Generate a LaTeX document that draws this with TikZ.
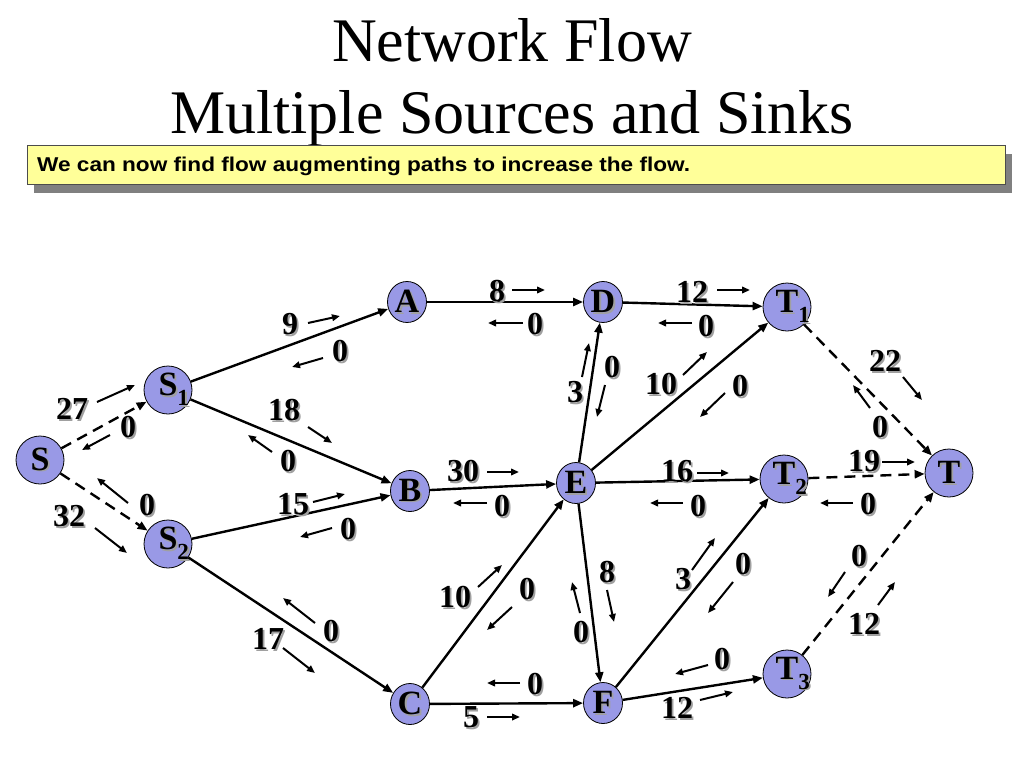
\documentclass[tikz,border=0pt]{standalone}
\usepackage{fontspec}
\usepackage{graphicx}
\setmainfont{Liberation Serif}
\newfontfamily\arialfont{Liberation Sans}
\usetikzlibrary{shapes.geometric,arrows.meta}
\definecolor{nodefill}{RGB}{153,153,230}
\definecolor{boxfill}{RGB}{255,255,153}
\definecolor{shgray}{RGB}{160,160,160}
\definecolor{boxshadow}{RGB}{128,128,128}
\newcommand\shd[1]{\leavevmode\rlap{\kern1.8pt\raisebox{-1.8pt}{\textcolor{shgray}{#1}}}#1}
\newcommand\sbs[2]{\shd{#1}\rlap{\raisebox{-10pt}{\fontsize{23}{23}\selectfont\shd{#2}}}}
\tikzset{
  vtx/.style={ellipse, draw=black, line width=0.8pt, fill=nodefill, inner sep=0pt, minimum width=39pt, minimum height=41pt},
  bigvtx/.style={vtx, minimum width=48pt, minimum height=48pt},
  vlab/.style={font=\fontsize{34}{34}\selectfont\bfseries, inner sep=0pt},
  elab/.style={font=\fontsize{32}{32}\selectfont\bfseries, inner sep=0pt},
  edge/.style={line width=2.4pt, -{Triangle[length=10pt,width=8pt]}},
  dedge/.style={edge, dash pattern=on 11pt off 7pt},
  sarrow/.style={line width=2pt, -{Triangle[length=8pt,width=6.5pt]}},
}
\begin{document}
\begin{tikzpicture}[x=1pt,y=-1pt]
\useasboundingbox (0,0) rectangle (1024,768);
\fill[white] (0,0) rectangle (1024,768);
% title
\node[anchor=base, inner sep=0pt, font=\fontsize{62}{62}\selectfont] (t1) at (512,62) {Network Flow};
\node[anchor=base, inner sep=0pt, font=\fontsize{62}{62}\selectfont] (t2) at (512,133) {Multiple Sources and Sinks};
% note box
\node[anchor=north west, fill=boxshadow, minimum width=978pt, minimum height=39pt, inner sep=0pt] (noteshadow) at (34,154) {};
\node[anchor=north west, fill=boxfill, draw=black!70, line width=0.8pt, minimum width=978pt, minimum height=39pt, inner sep=0pt] (note) at (27,145) {};
\node[anchor=base west, inner sep=0pt, font=\arialfont\bfseries\fontsize{20}{20}\selectfont] (notetext) at (37,171) {\scalebox{1.13}[1]{We can now find flow augmenting paths to increase the flow.}};
% vertices
\node[bigvtx, label={[vlab]center:\shd{S}}] (S) at (40,460) {};
\node[bigvtx, label={[vlab]center:\sbs{S}{1}}] (S1) at (168,390) {};
\node[bigvtx, label={[vlab]center:\sbs{S}{2}}] (S2) at (168,544) {};
\node[vtx, label={[vlab]center:\shd{A}}] (A) at (407,302) {};
\node[vtx, label={[vlab]center:\shd{B}}] (B) at (410,491) {};
\node[vtx, label={[vlab]center:\shd{C}}] (C) at (410,704) {};
\node[vtx, label={[vlab]center:\shd{D}}] (D) at (603,302) {};
\node[vtx, label={[vlab]center:\shd{E}}] (E) at (576,483) {};
\node[vtx, label={[vlab]center:\shd{F}}] (F) at (603,703) {};
\node[bigvtx, label={[vlab]center:\sbs{T}{1}}] (T1) at (787,307) {};
\node[bigvtx, label={[vlab]center:\sbs{T}{2}}] (T2) at (784,479) {};
\node[bigvtx, label={[vlab]center:\sbs{T}{3}}] (T3) at (787,674) {};
\node[bigvtx, label={[vlab]center:\shd{T}}] (T) at (949,473) {};
% edges
\draw[dedge] (S) -- (S1);
\draw[dedge] (S) -- (S2);
\draw[edge] (S1) -- (A);
\draw[edge] (S1) -- (B);
\draw[edge] (S2) -- (B);
\draw[edge] (S2) -- (C);
\draw[edge] (A) -- (D);
\draw[edge] (B) -- (E);
\draw[edge] (C) -- (E);
\draw[edge] (C) -- (F);
\draw[edge] (E) -- (D);
\draw[edge] (E) -- (T1);
\draw[edge] (E) -- (T2);
\draw[edge] (E) -- (F);
\draw[edge] (D) -- (T1);
\draw[edge] (F) -- (T2);
\draw[edge] (F) -- (T3);
\draw[dedge] (T1) -- (T);
\draw[dedge] (T2) -- (T);
\draw[dedge] (T3) -- (T);
% edge labels
\foreach \n/\x/\y/\t in {
 l1/72/410/27, l2/128/428/0, l3/69/517/32, l4/147/506/0,
 l5/290/325/9, l6/340/352/0, l7/284/411/18, l8/288/462/0,
 l9/293/505/15, l10/348/530/0, l11/331/632/0, l12/268/640/17,
 l13/497/292/8, l14/535/325/0, l15/692/293/12, l16/706/327/0,
 l17/575/393/3, l18/612/368/0, l19/661/385/10, l20/740/387/0,
 l21/677/472/16, l22/698/507/0, l23/463/472/30, l24/502/507/0,
 l25/455/598/10, l26/527/590/0, l27/607/573/8, l28/581/633/0,
 l29/535/685/0, l30/471/718/5, l31/683/580/3, l32/743/565/0,
 l33/722/660/0, l34/677/709/12, l35/859/557/0, l36/864/625/12,
 l37/885/362/22, l38/880/428/0, l39/864/462/19, l40/868/505/0}
 {\node[elab] (\n) at (\x,\y) {\shd{\t}};}
% flow direction arrows
\foreach \ax/\ay/\bx/\by in {
 97/402/135/385, 110/435/82/450, 95/528/127/553, 128/503/97/478,
 308/323/340/316, 323/358/292/367, 308/427/332/443, 272/452/248/435,
 313/502/345/494, 332/528/300/537, 315/623/283/598, 283/648/315/673,
 512/290/545/290, 523/323/488/323, 717/290/750/290, 692/323/658/323,
 582/377/589/343, 605/385/597/417, 683/375/707/352, 725/393/700/417,
 697/473/729/473, 683/503/650/503, 487/472/519/472, 487/503/453/503,
 478/587/502/565, 512/607/487/630, 607/590/614/622, 580/613/572/582,
 520/683/487/683, 487/717/520/717, 692/570/715/538, 733/582/708/613,
 708/665/675/674, 700/700/733/692, 845/572/828/597, 878/605/895/582,
 903/377/922/400, 870/408/853/385, 882/462/915/462, 853/503/820/503}
 {\draw[sarrow] (\ax,\ay) -- (\bx,\by);}
\end{tikzpicture}
\end{document}
